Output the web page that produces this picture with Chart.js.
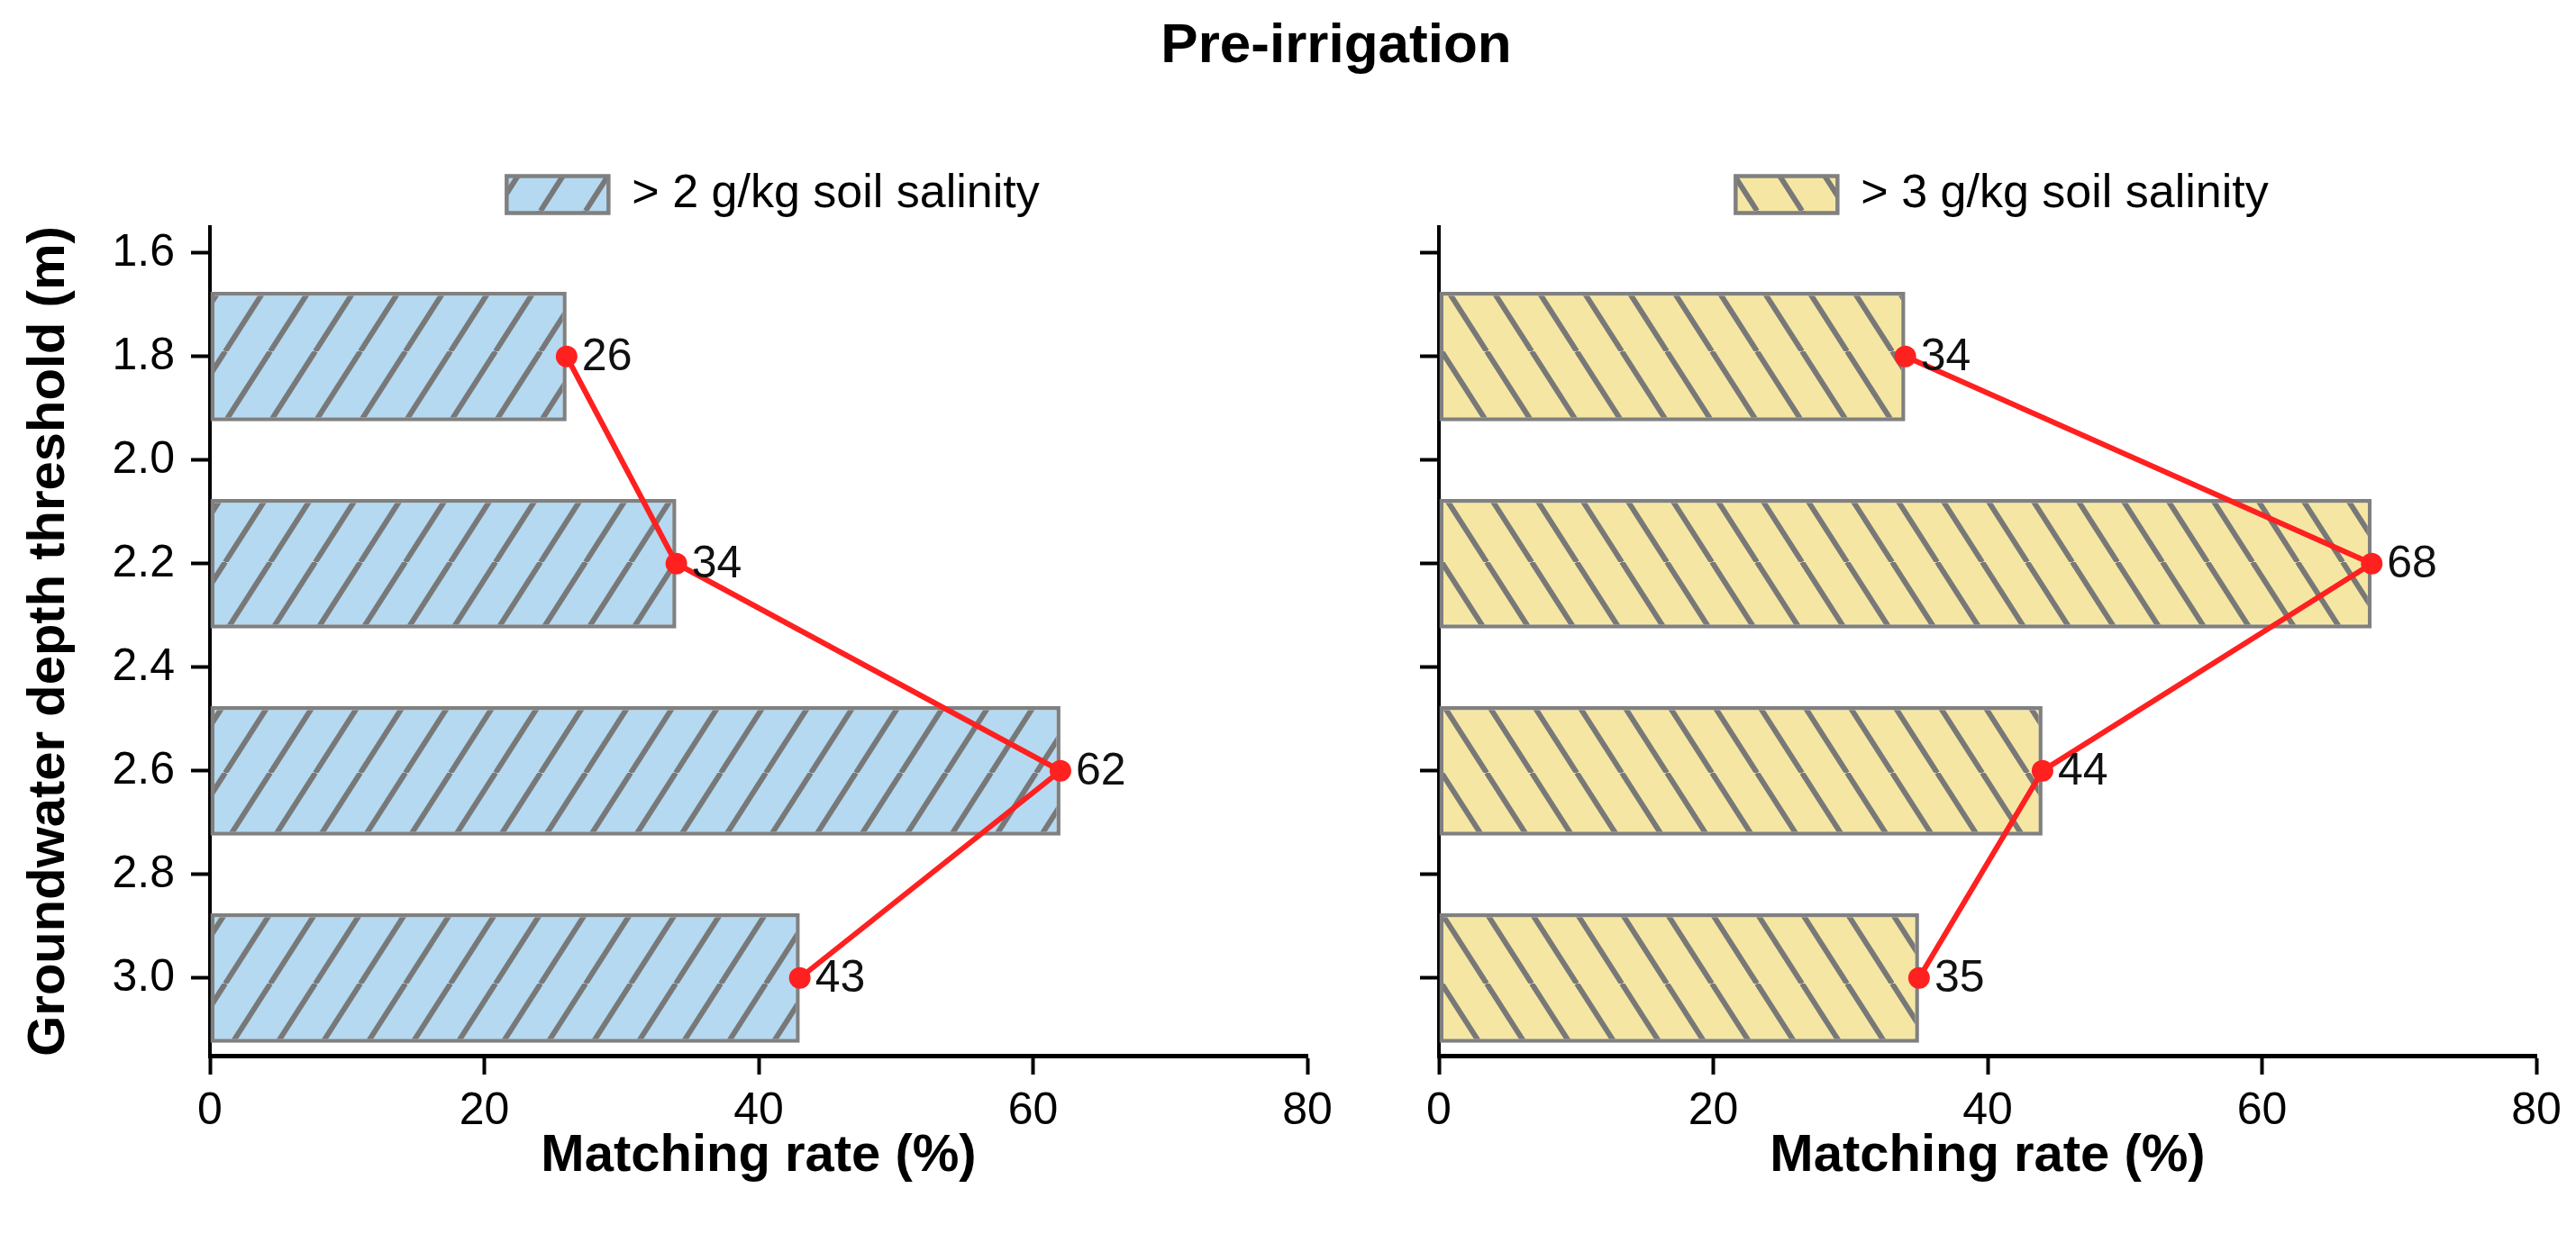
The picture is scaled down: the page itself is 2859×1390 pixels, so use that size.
<!DOCTYPE html>
<html>
<head>
<meta charset="utf-8">
<script src="https://cdn.jsdelivr.net/npm/chart.js"></script>
<style>
  body { margin: 0; background: #fff; width: 2859px; height: 1390px; position: relative; overflow: hidden;
         font-family: "Liberation Sans", Arial, sans-serif; }
  #title { position: absolute; left: 0; width: 2966px; top: 17px; text-align: center;
           font-weight: bold; font-size: 62px; line-height: 62px; color: #000; }
  canvas { position: absolute; top: 0; }
</style>
</head>
<body>
<div id="title">Pre-irrigation</div>
<canvas id="left" width="1500" height="1390" style="left:0"></canvas>
<canvas id="right" width="1359" height="1390" style="left:1500px"></canvas>
<script>
// data
const depths = [1.8, 2.2, 2.6, 3.0];
const rate2 = [26, 34, 62, 43];   // > 2 g/kg
const rate3 = [34, 68, 44, 35];   // > 3 g/kg
const depthTicks = [1.6, 1.8, 2.0, 2.2, 2.4, 2.6, 2.8, 3.0];
const rateTicks = [0, 20, 40, 60, 80];

const FONT = '"Liberation Sans", Arial, sans-serif';

// hatch tile: dir 1 = "/", -1 = "\"
function hatch(ctx, bg, dir) {
    const W = 50, H = 78;
    const tile = document.createElement('canvas');
    tile.width = W; tile.height = H;
    const g = tile.getContext('2d');
    g.fillStyle = bg;
    g.fillRect(0, 0, W, H);
    g.strokeStyle = '#787878';
    g.lineWidth = 6;
    const segs = dir > 0
        ? [[0, 0, -W, H], [W, 0, 0, H], [2 * W, 0, W, H]]
        : [[0, 0, W, H], [W, 0, 2 * W, H], [-W, 0, 0, H]];
    segs.forEach(s => {
        g.beginPath(); g.moveTo(s[0], s[1]); g.lineTo(s[2], s[3]); g.stroke();
    });
    return ctx.createPattern(tile, 'repeat');
}

// numbers next to the red points
const valueLabels = {
    id: 'valueLabels',
    afterDatasetsDraw(chart) {
        const ctx = chart.ctx;
        const meta = chart.getDatasetMeta(1);
        ctx.save();
        ctx.font = '50px ' + FONT;
        ctx.fillStyle = '#111';
        ctx.textBaseline = 'middle';
        ctx.textAlign = 'left';
        meta.data.forEach((pt, i) => {
            ctx.fillText(String(chart.data.datasets[1].data[i].x), pt.x + 17, pt.y + 1);
        });
        ctx.restore();
    }
};

// matplotlib legend sits a bit right of the axes centre
const legendShift = {
    id: 'legendShift',
    afterLayout(chart) {
        chart.legend.left += 16;
        chart.legend.right += 16;
    }
};

function makeChart(id, values, label, fill, dir, isLeft) {
    const ctx = document.getElementById(id).getContext('2d');
    const points = depths.map((d, i) => ({ x: values[i], y: d }));
    const axisGrid = { drawOnChartArea: false, offset: false, tickLength: 21, tickWidth: 4, tickColor: '#000' };

    return new Chart(ctx, {
        type: 'bar',
        data: {
            datasets: [
                {
                    type: 'bar',
                    label: label,
                    data: points,
                    backgroundColor: hatch(ctx, fill, dir),
                    borderColor: '#808080',
                    borderWidth: 4.5,
                    borderSkipped: false,
                    categoryPercentage: 1,
                    barPercentage: 1.25
                },
                {
                    type: 'line',
                    label: 'rate',
                    data: points,
                    borderColor: '#ff2020',
                    borderWidth: 6,
                    pointRadius: 12,
                    pointBackgroundColor: '#ff2020',
                    pointBorderWidth: 0,
                    fill: false,
                    tension: 0,
                    order: -1
                }
            ]
        },
        options: {
            indexAxis: 'y',
            responsive: false,
            animation: false,
            layout: { padding: { left: isLeft ? 10 : 0, right: isLeft ? 49 : 44, top: 175, bottom: 40 } },
            plugins: {
                legend: {
                    fullSize: false,
                    position: 'top',
                    align: 'center',
                    labels: {
                        filter: item => item.datasetIndex === 0,
                        boxWidth: 113,
                        boxHeight: 41,
                        padding: 15,
                        color: '#000',
                        font: { size: 52, family: FONT }
                    }
                },
                tooltip: { enabled: false }
            },
            scales: {
                x: {
                    type: 'linear',
                    position: 'bottom',
                    min: 0,
                    max: 80,
                    afterBuildTicks: s => { s.ticks = rateTicks.map(v => ({ value: v })); },
                    afterFit: s => { s.height = 178; },
                    grid: axisGrid,
                    border: { color: '#000', width: 5 },
                    ticks: { padding: 11, color: '#000', font: { size: 50, family: FONT } },
                    title: {
                        display: true,
                        text: 'Matching rate (%)',
                        color: '#000',
                        font: { size: 58, weight: 'bold', family: FONT },
                        padding: { top: 0, bottom: 31 }
                    }
                },
                y: {
                    type: 'linear',
                    position: 'left',
                    reverse: true,
                    offset: false,
                    min: 1.55,
                    max: 3.15,
                    afterBuildTicks: s => { s.ticks = depthTicks.map(v => ({ value: v })); },
                    afterFit: s => { s.width = isLeft ? 223 : 97; },
                    grid: axisGrid,
                    border: { color: '#000', width: 4 },
                    ticks: {
                        padding: 18,
                        color: '#000',
                        font: { size: 50, family: FONT },
                        callback: v => isLeft ? Number(v).toFixed(1) : ''
                    },
                    title: {
                        display: isLeft,
                        text: 'Groundwater depth threshold (m)',
                        color: '#000',
                        font: { size: 58, weight: 'bold', family: FONT },
                        padding: { top: 10, bottom: 10 }
                    }
                }
            }
        },
        plugins: [valueLabels, legendShift]
    });
}

makeChart('left', rate2, '> 2 g/kg soil salinity', '#b4d9f0', 1, true);
makeChart('right', rate3, '> 3 g/kg soil salinity', '#f5e7a3', -1, false);
</script>
</body>
</html>
